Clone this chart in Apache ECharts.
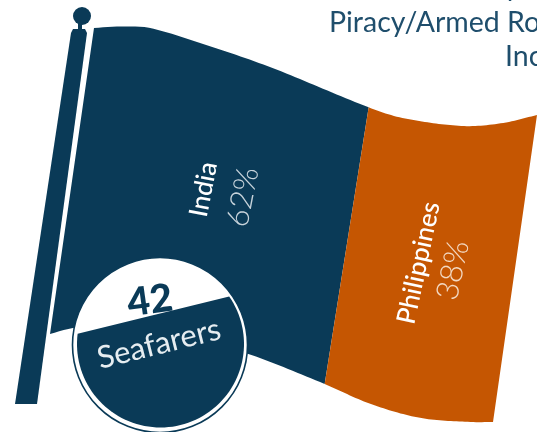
<!DOCTYPE html>
<html><head><meta charset="utf-8">
<style>html,body{margin:0;padding:0;background:#fff;overflow:hidden}#c{width:537px;height:432px}</style>
<script src="https://cdn.jsdelivr.net/npm/echarts@6/dist/echarts.min.js"></script>
</head><body><div id="c"></div>
<script>
const countries = ['India', 'Philippines'];
const shares = [62, 38];
const seafarers = 42;
const titleLines = ['y', 'Piracy/Armed Ro', 'Inc'];

const NAVY = '#0a3a57', ORANGE = '#c55602', TITLE = '#1f4e6c';
const colors = [NAVY, ORANGE];
const SHEAR = -44;
const topWave = [[0,0],[5.9,-1.5],[12.6,0],[23.9,15],[39.7,39],[61.8,79],[69.7,90],[83.3,98],[92.3,95],[100,87]];
const botWave = [[0,0],[5.2,-6],[15,-10],[25,-5],[35,6],[44.8,20],[49.8,28],[62,50],[72.4,70],[83.7,84],[95,88],[100,88]];
const labelPlacement = [
  { v: 0.46, dx: -8, d: 20, rot: 79 },
  { v: 0.22, dx: -17, d: 17.5, rot: 78 }
];

function waveAt(p, u) {
  let i = 0;
  while (i < p.length - 2 && u > p[i + 1][0]) i++;
  const a = p[Math.max(i - 1, 0)], b = p[i], c = p[i + 1], d = p[Math.min(i + 2, p.length - 1)];
  const h = c[0] - b[0], t = (u - b[0]) / h;
  const m1 = (c[1] - a[1]) / ((c[0] - a[0]) || 1) * h, m2 = (d[1] - b[1]) / ((d[0] - b[0]) || 1) * h;
  const t2 = t * t, t3 = t2 * t;
  return (2*t3-3*t2+1)*b[1] + (t3-2*t2+t)*m1 + (-2*t3+3*t2)*c[1] + (t3-t2)*m2;
}

let acc = 0;
const stripes = shares.map((s, i) => { const r = [acc, acc + s, countries[i], s, i]; acc += s; return r; });

function renderStripe(params, api) {
  const a = api.value(0), b = api.value(1), idx = api.value(4);
  const pts = [], bot = [];
  const N = 60;
  for (let k = 0; k <= N; k++) {
    const u = a + (b - a) * k / N;
    const t = api.coord([u, 1]), g = api.coord([u, 0]);
    pts.push([t[0], t[1] + waveAt(topWave, u)]);
    bot.push([g[0] + SHEAR, g[1] + waveAt(botWave, u)]);
  }
  return {
    type: 'polygon',
    shape: { points: pts.concat(bot.reverse()) },
    style: { fill: colors[idx] }
  };
}

function renderLabel(params, api) {
  const a = api.value(0), b = api.value(1), idx = api.value(4);
  const u = (a + b) / 2;
  const lp = labelPlacement[idx];
  const c = api.coord([u, lp.v]);
  return {
    type: 'group',
    x: c[0] + lp.dx,
    y: c[1],
    rotation: lp.rot * Math.PI / 180,
    children: [
      { type: 'text', x: 0, y: -lp.d, style: { text: api.value(2), font: '500 26px Lato', fill: '#fff', align: 'center', verticalAlign: 'middle' } },
      { type: 'text', x: 0, y: lp.d, style: { text: api.value(3) + '%', font: '300 31px Lato', fill: idx === 0 ? '#c7d3db' : '#f3d9c3', align: 'center', verticalAlign: 'middle' } }
    ]
  };
}

const BC = { x: 160.5, y: 344, r: 83.5 };
function badgeSegment() {
  const p = [];
  const a0 = Math.atan2(298 - BC.y, 227 - BC.x);
  let a1 = Math.atan2(334 - BC.y, 79 - BC.x);
  if (a1 < a0) a1 += Math.PI * 2;
  for (let k = 0; k <= 80; k++) {
    const t = a0 + (a1 - a0) * k / 80;
    p.push([BC.x + BC.r * Math.cos(t), BC.y + BC.r * Math.sin(t)]);
  }
  return p;
}

const chart = echarts.init(document.getElementById('c'), null, { renderer: 'canvas' });
chart.setOption({
  animation: false,
  grid: { left: 94, width: 443, top: 28, height: 306 },
  xAxis: { type: 'value', min: 0, max: 100, show: false },
  yAxis: { type: 'value', min: 0, max: 1, show: false },
  series: [
    { type: 'custom', coordinateSystem: 'cartesian2d', renderItem: renderStripe, data: stripes, silent: true, z: 2, clip: false },
    { type: 'custom', coordinateSystem: 'cartesian2d', renderItem: renderLabel, data: stripes, silent: true, z: 3, clip: false }
  ],
  graphic: [
    { type: 'circle', shape: { cx: 82, cy: 16, r: 9 }, style: { fill: NAVY }, z: 5 },
    { type: 'rect', shape: { x: 78, y: 23, width: 4, height: 7 }, style: { fill: NAVY }, z: 5 },
    { type: 'polygon', shape: { points: [[73,29],[85,29],[87,33],[37,404],[15,404],[71,33]] }, style: { fill: NAVY }, z: 5 },
    { type: 'circle', shape: { cx: 160, cy: 345, r: 87.5 }, style: { fill: '#fff', stroke: NAVY, lineWidth: 1.6 }, z: 6 },
    { type: 'text', x: 150, y: 301, rotation: 0.14, style: { text: String(seafarers), font: '900 39px Lato', fill: NAVY, align: 'center', verticalAlign: 'middle' }, z: 7 },
    { type: 'polygon', shape: { points: badgeSegment() }, style: { fill: NAVY }, z: 8 },
    { type: 'text', x: 159, y: 344, rotation: 14 * Math.PI / 180, style: { text: 'Seafarers', font: '400 31px Lato', fill: '#e6edf1', align: 'center', verticalAlign: 'middle' }, z: 9 },
    { type: 'text', x: 505, y: -13, style: { text: titleLines[0], font: '400 28.5px Lato', fill: TITLE, align: 'left', verticalAlign: 'middle' }, z: 10 },
    { type: 'text', x: 329, y: 23, style: { text: titleLines[1], font: '400 28.5px Lato', fill: TITLE, align: 'left', verticalAlign: 'middle' }, z: 10 },
    { type: 'text', x: 505, y: 57, style: { text: titleLines[2], font: '400 28.5px Lato', fill: TITLE, align: 'left', verticalAlign: 'middle' }, z: 10 }
  ]
});
</script></body></html>
